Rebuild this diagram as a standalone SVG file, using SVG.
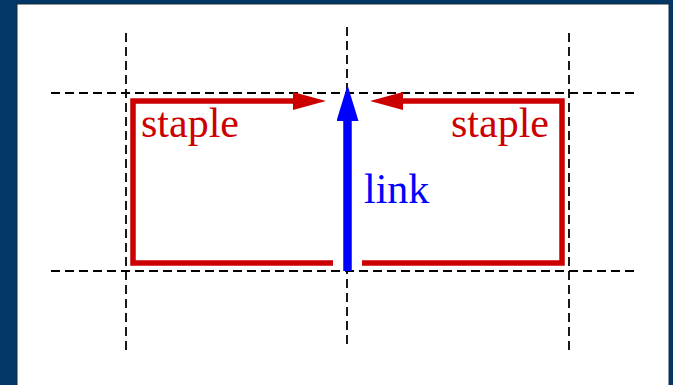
<svg xmlns="http://www.w3.org/2000/svg" width="673" height="385" viewBox="0 0 673 385">
<style>
.grid{stroke:#000;stroke-width:1.8;stroke-dasharray:9 5;fill:none}
.red{stroke:#cc0000;stroke-width:5.5;fill:none;stroke-linecap:butt;stroke-linejoin:miter}
.lbl{font-family:"Liberation Serif",serif;font-size:42px}
</style>
<defs>
<marker id="ahR" markerUnits="userSpaceOnUse" markerWidth="33" markerHeight="18" refX="0" refY="9" orient="auto" viewBox="0 0 33 18">
<path d="M0,0 L33,9 L0,18 Z" fill="#cc0000"/>
</marker>
<marker id="ahB" markerUnits="userSpaceOnUse" markerWidth="36" markerHeight="22" refX="0" refY="11" orient="auto" viewBox="0 0 36 22">
<path d="M0,0 L36,11 L0,22 Z" fill="#0000ff"/>
</marker>
</defs>
<rect x="0" y="0" width="673" height="385" fill="#033767"/>
<rect x="17" y="4" width="652" height="385" fill="#ffffff" stroke="#1a2a3a" stroke-width="1"/>
<g id="grid">
<line class="grid" x1="126" y1="33" x2="126" y2="353"/>
<line class="grid" x1="347" y1="27" x2="347" y2="346"/>
<line class="grid" x1="569" y1="33" x2="569" y2="353"/>
<line class="grid" x1="51" y1="93" x2="634" y2="93"/>
<line class="grid" x1="51" y1="271" x2="634" y2="271"/>
</g>
<g id="connectors">
<path id="staple-left" class="red" d="M333,263 L133,263 L133,101 L293,101" marker-end="url(#ahR)"/>
<path id="staple-right" class="red" d="M362,263 L562,263 L562,101 L403,101" marker-end="url(#ahR)"/>
<line id="link-arrow" x1="347.5" y1="271" x2="347.5" y2="121" stroke="#0000ff" stroke-width="8.5" marker-end="url(#ahB)"/>
</g>
<g id="label-staple-left"><text class="lbl" x="141" y="137" fill="#cc0000">staple</text></g>
<g id="label-staple-right"><text class="lbl" x="451" y="137" fill="#cc0000">staple</text></g>
<g id="label-link"><text class="lbl" x="364" y="203" fill="#0000ff">link</text></g>
</svg>
